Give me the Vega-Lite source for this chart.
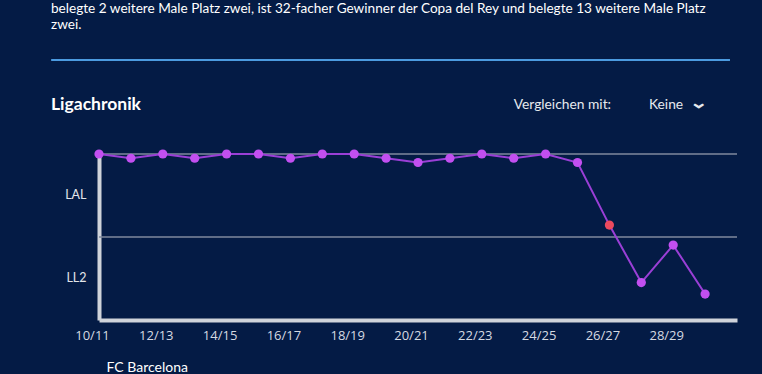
{
  "$schema": "https://vega.github.io/schema/vega-lite/v6.json",
  "width": 638,
  "height": 166,
  "autosize": {"type": "none"},
  "padding": {"left": 99, "top": 154, "right": 25, "bottom": 54},
  "background": "#041b45",
  "config": {
    "view": {"stroke": null},
    "font": "Lato"
  },
  "datasets": {
    "liga": [
      {"saison": "10/11", "jahr": 2010, "platz": 1, "status": "normal"},
      {"saison": "11/12", "jahr": 2011, "platz": 2, "status": "normal"},
      {"saison": "12/13", "jahr": 2012, "platz": 1, "status": "normal"},
      {"saison": "13/14", "jahr": 2013, "platz": 2, "status": "normal"},
      {"saison": "14/15", "jahr": 2014, "platz": 1, "status": "normal"},
      {"saison": "15/16", "jahr": 2015, "platz": 1, "status": "normal"},
      {"saison": "16/17", "jahr": 2016, "platz": 2, "status": "normal"},
      {"saison": "17/18", "jahr": 2017, "platz": 1, "status": "normal"},
      {"saison": "18/19", "jahr": 2018, "platz": 1, "status": "normal"},
      {"saison": "19/20", "jahr": 2019, "platz": 2, "status": "normal"},
      {"saison": "20/21", "jahr": 2020, "platz": 3, "status": "normal"},
      {"saison": "21/22", "jahr": 2021, "platz": 2, "status": "normal"},
      {"saison": "22/23", "jahr": 2022, "platz": 1, "status": "normal"},
      {"saison": "23/24", "jahr": 2023, "platz": 2, "status": "normal"},
      {"saison": "24/25", "jahr": 2024, "platz": 1, "status": "normal"},
      {"saison": "25/26", "jahr": 2025, "platz": 3, "status": "normal"},
      {"saison": "26/27", "jahr": 2026, "platz": 17.7, "status": "abstieg"},
      {"saison": "27/28", "jahr": 2027, "platz": 31.2, "status": "normal"},
      {"saison": "28/29", "jahr": 2028, "platz": 22.4, "status": "normal"},
      {"saison": "29/30", "jahr": 2029, "platz": 33.9, "status": "normal"}
    ],
    "grenzen": [{"grenze": 1}, {"grenze": 20.5}]
  },
  "layer": [
    {
      "data": {"name": "grenzen"},
      "mark": {"type": "rule", "color": "#7f8a9e", "strokeWidth": 1.3},
      "encoding": {
        "y": {"field": "grenze", "type": "quantitative", "scale": {"domain": [1, 40], "reverse": true, "nice": false, "zero": false}}
      }
    },
    {
      "data": {"name": "liga"},
      "mark": {"type": "line", "color": "#9a3fd6", "strokeWidth": 2},
      "encoding": {
        "x": {
          "field": "jahr", "type": "quantitative",
          "scale": {"domain": [2010, 2030], "nice": false, "zero": false},
          "axis": {
            "values": [2010, 2012, 2014, 2016, 2018, 2020, 2022, 2024, 2026, 2028],
            "labelExpr": "format(datum.value % 100, '02d') + '/' + format((datum.value + 1) % 100, '02d')",
            "grid": false, "ticks": false, "tickSize": 0,
            "domainColor": "#cfd3da", "domainWidth": 4,
            "labelColor": "#d6dae2", "labelFontSize": 13, "labelFont": "Open Sans",
            "labelPadding": 9, "labelOffset": -7, "labelFlush": false,
            "title": "FC Barcelona", "titleColor": "#ffffff", "titleFont": "Lato",
            "titleFontSize": 14, "titleFontWeight": "normal",
            "titleAnchor": "start", "titleAlign": "left", "titleBaseline": "middle",
            "titleX": 7, "titleY": 47
          }
        },
        "y": {
          "field": "platz", "type": "quantitative",
          "scale": {"domain": [1, 40], "reverse": true, "nice": false, "zero": false},
          "axis": {
            "values": [10.5, 30],
            "labelExpr": "datum.value < 20 ? 'LAL' : 'LL2'",
            "grid": false, "ticks": false, "tickSize": 0,
            "domainColor": "#cfd3da", "domainWidth": 4,
            "labelColor": "#e2e5ea", "labelFontSize": 12.5, "labelFont": "Lato",
            "labelPadding": 13, "title": null
          }
        }
      }
    },
    {
      "data": {"name": "liga"},
      "mark": {"type": "point", "filled": true, "opacity": 1, "size": 85, "strokeWidth": 1},
      "encoding": {
        "x": {"field": "jahr", "type": "quantitative"},
        "y": {"field": "platz", "type": "quantitative"},
        "color": {"field": "status", "type": "nominal", "scale": {"domain": ["normal", "abstieg"], "range": ["#c24ff0", "#ec4a5e"]}, "legend": null}
      }
    },
    {
      "data": {"values": [{}]},
      "mark": {"type": "rule", "color": "#4c9be0", "strokeWidth": 2},
      "encoding": {
        "x": {"datum": 2008.5, "type": "quantitative"},
        "x2": {"datum": 2029.78},
        "y": {"datum": -21.1, "type": "quantitative"}
      }
    },
    {
      "data": {"values": [{}]},
      "mark": {"type": "text", "align": "left", "baseline": "middle", "font": "Lato", "fontSize": 13.6, "color": "#ffffff", "text": "belegte 2 weitere Male Platz zwei,  ist 32-facher Gewinner der Copa del Rey und belegte 13 weitere Male Platz"},
      "encoding": {
        "x": {"datum": 2008.495, "type": "quantitative"},
        "y": {"datum": -33.05, "type": "quantitative"}
      }
    },
    {
      "data": {"values": [{}]},
      "mark": {"type": "text", "align": "left", "baseline": "middle", "font": "Lato", "fontSize": 13.6, "color": "#ffffff", "text": "zwei."},
      "encoding": {
        "x": {"datum": 2008.495, "type": "quantitative"},
        "y": {"datum": -29.35, "type": "quantitative"}
      }
    },
    {
      "data": {"values": [{}]},
      "mark": {"type": "text", "align": "left", "baseline": "middle", "font": "Lato", "fontSize": 17.5, "fontWeight": "bold", "color": "#ffffff", "text": "Ligachronik"},
      "encoding": {
        "x": {"datum": 2008.495, "type": "quantitative"},
        "y": {"datum": -10.5, "type": "quantitative"}
      }
    },
    {
      "data": {"values": [{}]},
      "mark": {"type": "text", "align": "left", "baseline": "middle", "font": "Lato", "fontSize": 13.8, "color": "#e6e9ee", "text": "Vergleichen mit:"},
      "encoding": {
        "x": {"datum": 2023.0, "type": "quantitative"},
        "y": {"datum": -10.5, "type": "quantitative"}
      }
    },
    {
      "data": {"values": [{}]},
      "mark": {"type": "text", "align": "left", "baseline": "middle", "font": "Lato", "fontSize": 13.8, "color": "#e6e9ee", "text": "Keine"},
      "encoding": {
        "x": {"datum": 2027.24, "type": "quantitative"},
        "y": {"datum": -10.5, "type": "quantitative"}
      }
    },
    {
      "data": {"values": [{}]},
      "mark": {"type": "text", "align": "center", "baseline": "middle", "font": "Lato", "fontSize": 25, "fontWeight": "bold", "angle": 90, "color": "#e6e9ee", "text": "›"},
      "encoding": {
        "x": {"datum": 2028.85, "type": "quantitative"},
        "y": {"datum": -10.3, "type": "quantitative"}
      }
    }
  ]
}
